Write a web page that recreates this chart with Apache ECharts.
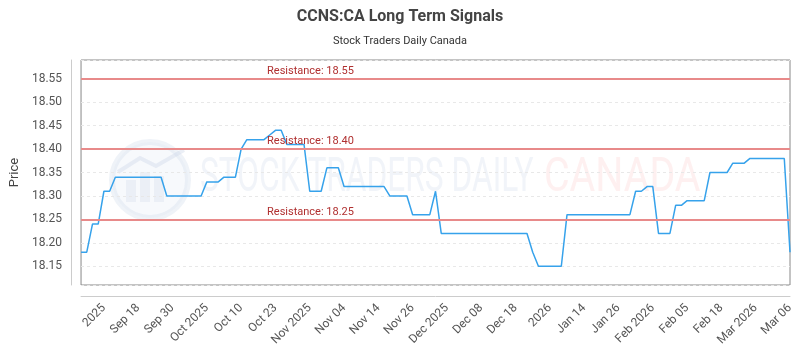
<!DOCTYPE html>
<html>
<head>
<meta charset="UTF-8">
<title>CCNS:CA Long Term Signals</title>
<script src="https://cdn.jsdelivr.net/npm/echarts@6/dist/echarts.min.js"></script>
<style>
  html, body { margin: 0; padding: 0; background: #fff; }
</style>
</head>
<body>
<div id="main" style="width: 800px; height: 350px;"></div>
<script type="text/javascript">
// price readings, one per trading day
var prices = [
  18.18, 18.18, 18.24, 18.24, 18.31, 18.31,
  18.34, 18.34, 18.34, 18.34, 18.34, 18.34, 18.34, 18.34, 18.34,
  18.30, 18.30, 18.30, 18.30, 18.30, 18.30, 18.30,
  18.33, 18.33, 18.33, 18.34, 18.34, 18.34,
  18.40, 18.42, 18.42, 18.42, 18.42, 18.43, 18.44, 18.44,
  18.41, 18.41, 18.41, 18.41,
  18.31, 18.31, 18.31, 18.36, 18.36, 18.36,
  18.32, 18.32, 18.32, 18.32, 18.32, 18.32, 18.32, 18.32,
  18.30, 18.30, 18.30, 18.30, 18.26, 18.26, 18.26, 18.26, 18.31,
  18.22, 18.22, 18.22, 18.22, 18.22, 18.22, 18.22, 18.22,
  18.22, 18.22, 18.22, 18.22, 18.22, 18.22, 18.22, 18.22,
  18.18, 18.15, 18.15, 18.15, 18.15, 18.15,
  18.26, 18.26, 18.26, 18.26, 18.26, 18.26, 18.26, 18.26, 18.26, 18.26, 18.26, 18.26,
  18.31, 18.31, 18.32, 18.32, 18.22, 18.22, 18.22,
  18.28, 18.28, 18.29, 18.29, 18.29, 18.29,
  18.35, 18.35, 18.35, 18.35, 18.37, 18.37, 18.37,
  18.38, 18.38, 18.38, 18.38, 18.38, 18.38, 18.38, 18.18
];
var days = prices.map(function (v, i) { return String(i); });

// x labels, shown every 6th trading day starting at day 4
var tickLabels = ['2025', 'Sep 18', 'Sep 30', 'Oct 2025', 'Oct 10', 'Oct 23', 'Nov 2025',
  'Nov 04', 'Nov 14', 'Nov 26', 'Dec 2025', 'Dec 08', 'Dec 18', '2026', 'Jan 14',
  'Jan 26', 'Feb 2026', 'Feb 05', 'Feb 18', 'Mar 2026', 'Mar 06'];
var tickStart = 4, tickStep = 6;

var resistance = [18.55, 18.40, 18.25];

var myChart = echarts.init(document.getElementById('main'));

function isTick(i) {
  return i >= tickStart && (i - tickStart) % tickStep === 0;
}

var option = {
  animation: false,
  title: {
    text: 'CCNS:CA Long Term Signals',
    subtext: 'Stock Traders Daily Canada',
    left: 'center',
    top: 4,
    itemGap: 11,
    textStyle: { fontFamily: 'Roboto', fontSize: 16, fontWeight: 'bold', color: '#444' },
    subtextStyle: { fontFamily: 'Roboto', fontSize: 11, color: '#333' }
  },
  graphic: [
    { type: 'circle', z: -1, shape: { cx: 150, cy: 180, r: 38 },
      style: { fill: 'rgba(230,236,246,0.3)', stroke: 'rgba(210,220,236,0.35)', lineWidth: 6 } },
    { type: 'rect', z: -1, shape: { x: 126, y: 180, width: 10, height: 22 }, style: { fill: 'rgba(205,216,232,0.3)' } },
    { type: 'rect', z: -1, shape: { x: 140, y: 172, width: 10, height: 30 }, style: { fill: 'rgba(205,216,232,0.3)' } },
    { type: 'rect', z: -1, shape: { x: 154, y: 176, width: 10, height: 26 }, style: { fill: 'rgba(205,216,232,0.3)' } },
    { type: 'polyline', z: -1, shape: { points: [[118, 172], [140, 158], [156, 166], [184, 150]] },
      style: { stroke: 'rgba(205,216,232,0.4)', lineWidth: 4, fill: null } },
    { type: 'text', z: -1, x: 200, y: 179, scaleX: 0.66,
      style: { text: 'STOCK TRADERS DAILY', font: '48px Roboto', fill: 'rgba(200,212,230,0.25)',
        verticalAlign: 'middle' } },
    { type: 'text', z: -1, x: 544, y: 179, scaleX: 0.82,
      style: { text: 'CANADA', font: '48px Roboto', fill: 'rgba(250,195,195,0.25)',
        verticalAlign: 'middle' } }
  ],
  grid: {
    left: 77,
    right: 10,
    top: 60,
    bottom: 65,
    show: true,
    borderColor: '#888',
    borderWidth: 1,
    backgroundColor: 'transparent'
  },
  xAxis: {
    type: 'category',
    data: days,
    boundaryGap: false,
    offset: 11,
    axisLine: { lineStyle: { color: '#ccc' } },
    axisTick: { show: false },
    splitLine: { show: false },
    axisLabel: {
      interval: function (i) { return isTick(i); },
      rotate: 45,
      margin: 10,
      color: '#555',
      fontFamily: 'Roboto',
      fontSize: 12,
      formatter: function (v, i) {
        return isTick(i) ? tickLabels[(i - tickStart) / tickStep] : '';
      }
    }
  },
  yAxis: {
    type: 'value',
    min: 18.11,
    max: 18.59,
    splitNumber: 10,
    offset: 10,
    name: 'Price',
    nameLocation: 'middle',
    nameGap: 48,
    nameTextStyle: { fontFamily: 'Roboto', fontSize: 13, color: '#444' },
    axisLine: { show: true, lineStyle: { color: '#ccc' } },
    axisTick: { show: false },
    splitLine: { lineStyle: { color: '#e8e8e8', type: [3, 3] } },
    axisLabel: {
      showMinLabel: false,
      showMaxLabel: false,
      margin: 9,
      color: '#555',
      fontFamily: 'Roboto',
      fontSize: 12,
      formatter: function (v) { return v.toFixed(2); }
    }
  },
  series: [{
    type: 'line',
    data: prices,
    showSymbol: false,
    symbol: 'none',
    z: 3,
    lineStyle: { color: '#36a2eb', width: 1.5 },
    markLine: {
      silent: true,
      symbol: 'none',
      animation: false,
      lineStyle: { color: '#e88a8a', width: 2, type: 'solid' },
      label: {
        position: 'insideStartTop',
        distance: 2,
        padding: [0, 0, 0, 184],
        color: '#b03030',
        fontFamily: 'Roboto',
        fontSize: 11,
        formatter: function (p) { return 'Resistance: ' + p.value.toFixed(2); }
      },
      data: resistance.map(function (r) { return { yAxis: r }; })
    }
  }]
};

myChart.setOption(option);
</script>
</body>
</html>
